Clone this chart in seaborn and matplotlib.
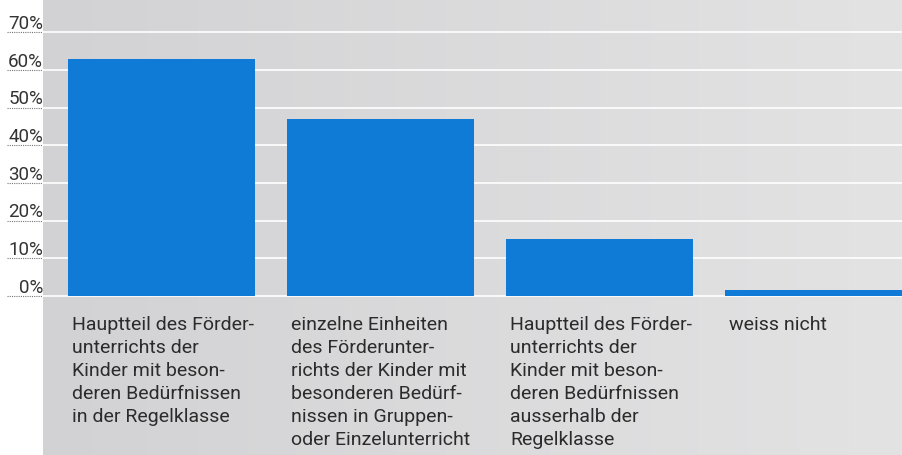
import numpy as np
import pandas as pd
import matplotlib
matplotlib.use("Agg")
import matplotlib.pyplot as plt
from matplotlib.colors import LinearSegmentedColormap
import seaborn as sns

# data
kategorien = [
    "Hauptteil des Förder-\nunterrichts der\nKinder mit beson-\nderen Bedürfnissen\nin der Regelklasse",
    "einzelne Einheiten\ndes Förderunter-\nrichts der Kinder mit\nbesonderen Bedürf-\nnissen in Gruppen-\noder Einzelunterricht",
    "Hauptteil des Förder-\nunterrichts der\nKinder mit beson-\nderen Bedürfnissen\nausserhalb der\nRegelklasse",
    "weiss nicht",
]
anteil = [63, 47, 15, 1.5]
yticks = [0, 10, 20, 30, 40, 50, 60, 70]
ytick_labels = ["0%", "10%", "20%", "30%", "40%", "50%", "60%", "70%"]

df = pd.DataFrame({"kat": [f"k{i}" for i in range(len(kategorien))], "wert": anteil})

sns.set_theme(style="white")
plt.rcParams['font.family'] = ['Roboto', 'DejaVu Sans']

fig = plt.figure(figsize=(9.03, 4.56), dpi=100)
fig.patch.set_facecolor("white")
ax = fig.add_axes([43 / 903, 0, 860 / 903, 1])
ax.set_facecolor("#dadadc")

# leichter Verlauf im Hintergrund (Papier heller nach rechts)
grau = LinearSegmentedColormap.from_list("grau", ["#d2d2d4", "#e3e3e4"])
ax.imshow(np.linspace(0, 1, 256).reshape(1, -1), cmap=grau, aspect="auto",
          extent=[0, 1, 0, 1], transform=ax.transAxes, zorder=0)

sns.barplot(data=df, x="kat", y="wert", color="#0f7bd6", saturation=1,
            width=0.854, linewidth=0, ax=ax, zorder=3)

ax.set_xlim(-0.541, 3.386)
ax.set_ylim(-42.2, 78.8)
for s in ax.spines.values():
    s.set_visible(False)

# weisse Gitterlinien
for t in yticks:
    ax.axhline(t, color="white", lw=1.2, zorder=1)

ax.set_xticks([])
ax.set_yticks([])
ax.set_xlabel("")
ax.set_ylabel("")

# y-Beschriftung mit gepunkteter Unterlinie
tr = ax.get_yaxis_transform()
for t, lab in zip(yticks, ytick_labels):
    ax.text(0.0, t + 1.1, lab, transform=tr, ha="right", va="baseline",
            fontsize=13.5, color="#333333", clip_on=False)
    ax.plot([-0.042, -0.001], [t, t], transform=tr, color="#777777",
            lw=0.8, ls=(0, (1, 1)), clip_on=False)

# Kategorien unter den Balken
for i, lab in enumerate(kategorien):
    ax.text(i - 0.854 / 2 + 0.02, -5.0, lab, ha="left", va="top",
            fontsize=14, color="#2b2b2b", linespacing=1.36)

plt.savefig("out.png", dpi=100)
